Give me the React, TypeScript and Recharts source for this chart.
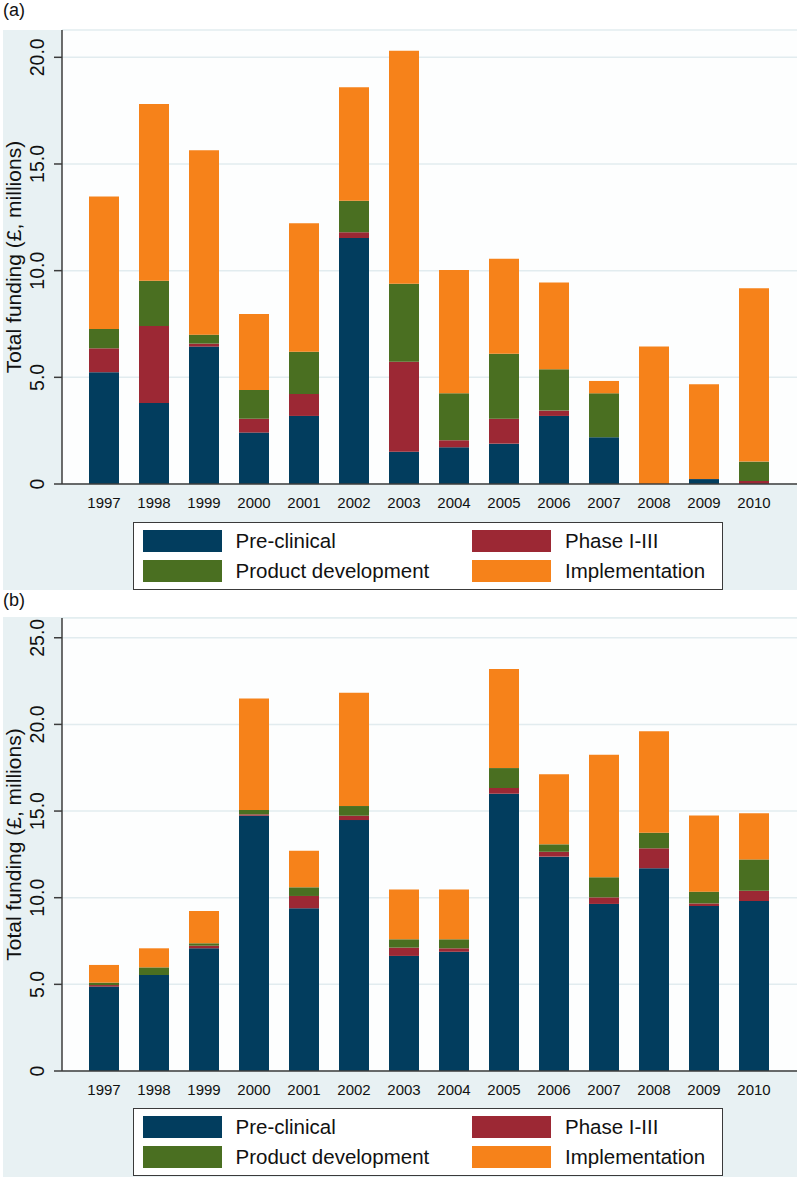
import React from 'react';
import { BarChart, Bar, XAxis, YAxis, CartesianGrid, Legend, Label } from 'recharts';

const years = ['1997', '1998', '1999', '2000', '2001', '2002', '2003', '2004', '2005', '2006', '2007', '2008', '2009', '2010'];

// Panel (a)
const preA = [5.24, 3.8, 6.44, 2.41, 3.19, 11.53, 1.51, 1.72, 1.89, 3.19, 2.19, 0, 0.23, 0];
const phaseA = [1.12, 3.61, 0.14, 0.65, 1.03, 0.27, 4.22, 0.33, 1.17, 0.25, 0, 0, 0, 0.14];
const prodA = [0.91, 2.12, 0.42, 1.35, 1.98, 1.48, 3.66, 2.2, 3.05, 1.94, 2.06, 0, 0, 0.91];
const implA = [6.2, 8.28, 8.64, 3.56, 6.02, 5.32, 10.92, 5.78, 4.45, 4.06, 0.58, 6.44, 4.44, 8.12];

// Panel (b)
const preB = [4.87, 5.54, 7.08, 14.73, 9.39, 14.48, 6.64, 6.88, 16.0, 12.37, 9.64, 11.7, 9.52, 9.81];
const phaseB = [0.09, 0, 0.15, 0.08, 0.71, 0.25, 0.48, 0.2, 0.33, 0.28, 0.38, 1.15, 0.15, 0.59];
const prodB = [0.14, 0.44, 0.14, 0.25, 0.5, 0.56, 0.48, 0.52, 1.15, 0.43, 1.16, 0.9, 0.68, 1.81];
const implB = [1.02, 1.1, 1.86, 6.44, 2.11, 6.54, 2.88, 2.88, 5.72, 4.04, 7.07, 5.85, 4.4, 2.66];

const seriesKeys = ['pre', 'phase', 'prod', 'impl'];
const seriesNames = ['Pre-clinical', 'Phase I-III', 'Product development', 'Implementation'];
const seriesColors = ['#023d5e', '#9c2834', '#4a6f21', '#f6821a'];

const ticksA = [0, 5, 10, 15, 20];
const ticksB = [0, 5, 10, 15, 20, 25];

const buildData = (pre: number[], phase: number[], prod: number[], impl: number[]) =>
  years.map((y, i) => ({ year: y, pre: pre[i], phase: phase[i], prod: prod[i], impl: impl[i] }));

const dataA = buildData(preA, phaseA, prodA, implA);
const dataB = buildData(preB, phaseB, prodB, implB);

const FONT = '"Liberation Sans", Arial, sans-serif';

const YTick = (props: any) => {
  const { y, payload } = props;
  const v = payload.value;
  const label = v === 0 ? '0' : Number(v).toFixed(1);
  return (
    <text
      x={37}
      y={y}
      transform={`rotate(-90, 37, ${y})`}
      textAnchor="middle"
      dominantBaseline="central"
      fontSize={19.5}
      fontFamily={FONT}
      fill="#111"
    >
      {label}
    </text>
  );
};

const YTitle = (props: any) => {
  const vb = props.viewBox || {};
  const cy = vb.y !== undefined ? vb.y + vb.height / 2 : 257;
  return (
    <text
      x={13}
      y={cy}
      transform={`rotate(-90, 13, ${cy})`}
      textAnchor="middle"
      dominantBaseline="central"
      fontSize={21}
      fontFamily={FONT}
      fill="#111"
    >
      Total funding (£, millions)
    </text>
  );
};

const LegendBox = () => (
  <div
    style={{
      position: 'relative',
      width: 590,
      height: 68,
      boxSizing: 'border-box',
      border: '1.5px solid #3a3a3a',
      background: '#ffffff',
      fontFamily: FONT,
    }}
  >
    {seriesNames.map((name, i) => {
      const col = i % 2;
      const row = Math.floor(i / 2);
      const left = 8.5 + col * 329.5;
      const top = 7 + row * 30;
      return (
        <div key={name} style={{ position: 'absolute', left, top, height: 22, display: 'flex', alignItems: 'center' }}>
          <div style={{ width: 79, height: 22, background: seriesColors[i] }} />
          <div style={{ marginLeft: 14, fontSize: 20.5, lineHeight: '22px', color: '#111', whiteSpace: 'nowrap' }}>{name}</div>
        </div>
      );
    })}
  </div>
);

type ChartProps = {
  data: any[];
  domainMax: number;
  ticks: number[];
  height: number;
  plotTop: number;
  baseline: number;
  legendTop: number;
};

const FundingChart = ({ data, domainMax, ticks, height, plotTop, baseline, legendTop }: ChartProps) => {
  const xAxisHeight = 30;
  return (
    <BarChart
      width={800}
      height={height}
      data={data}
      margin={{ top: plotTop, right: 3, left: 0, bottom: height - baseline - xAxisHeight }}
      barSize={30}
    >
      <CartesianGrid vertical={false} stroke="#e2ecef" strokeWidth={1.5} fill="#fdfefe" />
      <XAxis
        dataKey="year"
        height={xAxisHeight}
        padding={{ left: 17, right: 18 }}
        tickLine={false}
        tickMargin={7}
        axisLine={{ stroke: '#3c3c3c', strokeWidth: 1.5 }}
        tick={{ fontSize: 15, fontFamily: FONT, fill: '#111' }}
        interval={0}
      />
      <YAxis
        width={62}
        domain={[0, domainMax]}
        ticks={ticks}
        allowDataOverflow
        tickSize={8}
        tickLine={{ stroke: '#3c3c3c', strokeWidth: 1.5 }}
        axisLine={{ stroke: '#3c3c3c', strokeWidth: 1.5 }}
        tick={<YTick />}
        label={<Label content={<YTitle />} />}
      />
      <Legend
        layout="vertical"
        align="center"
        verticalAlign="middle"
        content={<LegendBox />}
        wrapperStyle={{ position: 'absolute', left: 133, top: legendTop, width: 590, height: 68 }}
      />
      {seriesKeys.map((k, i) => (
        <Bar key={k} dataKey={k} name={seriesNames[i]} stackId="s" fill={seriesColors[i]} isAnimationActive={false} />
      ))}
    </BarChart>
  );
};

export default function App() {
  return (
    <div style={{ position: 'absolute', left: 0, top: 0, width: 800, height: 1181, background: '#ffffff', overflow: 'hidden', fontFamily: FONT }}>
      <div style={{ position: 'absolute', left: 3, top: 30, width: 794, height: 560, background: '#e8f1f3' }} />
      <div style={{ position: 'absolute', left: 3, top: 617, width: 794, height: 560, background: '#e8f1f3' }} />
      <div style={{ position: 'absolute', left: 3, top: 1, fontSize: 18, lineHeight: '18px', color: '#111' }}>(a)</div>
      <div style={{ position: 'absolute', left: 3, top: 591, fontSize: 18, lineHeight: '18px', color: '#111' }}>(b)</div>
      <div style={{ position: 'absolute', left: 0, top: 0 }}>
        <FundingChart data={dataA} domainMax={21.28} ticks={ticksA} height={600} plotTop={30} baseline={484} legendTop={522} />
      </div>
      <div style={{ position: 'absolute', left: 0, top: 590 }}>
        <FundingChart data={dataB} domainMax={26.14} ticks={ticksB} height={591} plotTop={28} baseline={481} legendTop={518} />
      </div>
    </div>
  );
}
